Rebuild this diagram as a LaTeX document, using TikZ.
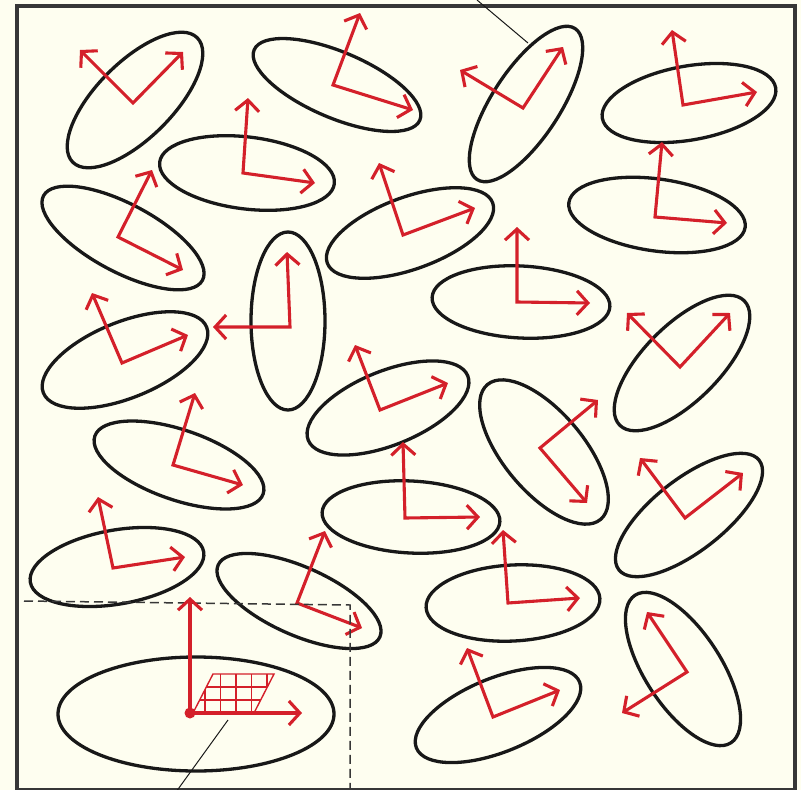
\documentclass[tikz,border=0pt]{standalone}
\usetikzlibrary{arrows.meta}
\definecolor{bg}{RGB}{254,254,240}
\definecolor{myred}{RGB}{212,32,42}
\definecolor{ink}{RGB}{24,24,24}
\definecolor{framec}{RGB}{55,55,55}
\begin{document}
\begin{tikzpicture}[x=1pt,y=-1pt,
  ell/.style={draw=ink,line width=3.3pt},
  axes/.style={draw=myred,line width=3.1pt,line join=miter,
    {Straight Barb[length=11pt,width=24pt]}-{Straight Barb[length=11pt,width=24pt]}},
  gridline/.style={draw=myred,line width=1.4pt},
  dashline/.style={draw=framec,line width=1.5pt,dash pattern=on 9pt off 5pt},
  thinline/.style={draw=ink,line width=1pt}]
\fill[bg] (0,0) rectangle (801,790);
\useasboundingbox (0,0) rectangle (801,790);
% frame
\draw[framec,line width=3.5pt] (17,6) rectangle (795,790);
% ellipses with principal axes: center, a, b, angle; origin, tip1, tip2
\foreach \cx/\cy/\a/\b/\t/\ox/\oy/\px/\py/\qx/\qy in {
 135/100/88/38/45/133/103/80/50/183/52,
 337/85/90/33/-23/333/85/360/13/413/110,
 526/104/90/34/57/523/108/460/70/563/47,
 689/103/88/37/10/683/105/672/30/757/92,
 247/173/88/36/-7/243/173/248/98/315/183,
 123/238/90/34/-28/118/237/152/170/183/270,
 410/233/88/36/20/403/235/379/163/475/208,
 657/215/89/36/-8/655/217/662/142/727/223,
 288/321/89/37/90/290/327/287/252/213/327,
 125/360/88/38/22/122/363/92/293/188/335,
 521/302/89/36/-3/517/302/517/227/590/303,
 682/363/88/38/45/680/367/627/313/730/313,
 388/408/86/37/22/380/410/355/345/448/383,
 544/452/88/40/-50/540/448/598/400/587/503,
 179/465/89/35/-19/173/465/195/393/243/485,
 689/515/89/36/38/685/518/640/458/743/473,
 411/517/89/36/-3/405/518/403/442/480/517,
 117/567/88/37/10/113/568/98/497/185/557,
 299/601/88.5/34/-24/297/603/325/531/362/628,
 513/603/87/38/3/508/603/503/530/580/598,
 683/669/88/38/-57/687/672/647/612/622/713,
 498/715/88/37/22/493/717/467/648/560/690}{
  \draw[ell,rotate around={\t:(\cx,\cy)}] (\cx,\cy) ellipse [x radius=\a, y radius=\b];
  \draw[axes] (\px,\py) -- (\ox,\oy) -- (\qx,\qy);
}
% dashed region
\coordinate (dA) at (24,601);
\coordinate (dB) at (350,605);
\coordinate (dC) at (350,792);
\draw[dashline] (dA) -- (dB) -- (dC);
% big ellipse
\draw[ell] (196,714) ellipse [x radius=138, y radius=57];
% grid parallelogram
\coordinate (g1) at (193,713);
\coordinate (g2) at (254,713);
\coordinate (g3) at (274,674);
\coordinate (g4) at (213,674);
\begin{scope}
  \clip (g1) -- (g2) -- (g3) -- (g4) -- cycle;
  \foreach \gx in {205,220.5,236,251.5,267} \draw[gridline] (\gx,670) -- (\gx,717);
  \foreach \gy in {687,700} \draw[gridline] (188,\gy) -- (280,\gy);
\end{scope}
\draw[gridline] (g1) -- (g2) -- (g3) -- (g4) -- cycle;
\coordinate (o23) at (190,713);
\coordinate (u23) at (190,597);
\coordinate (r23) at (302,713);
\draw[axes] (u23) -- (o23) -- (r23);
\fill[myred] (o23) circle [radius=5.5];
% leader lines
\coordinate (t1) at (477,0);
\coordinate (t2) at (528,43);
\draw[thinline] (t1) -- (t2);
\coordinate (b1) at (228,720);
\coordinate (b2) at (176,792);
\draw[thinline] (b1) -- (b2);
\end{tikzpicture}
\end{document}
